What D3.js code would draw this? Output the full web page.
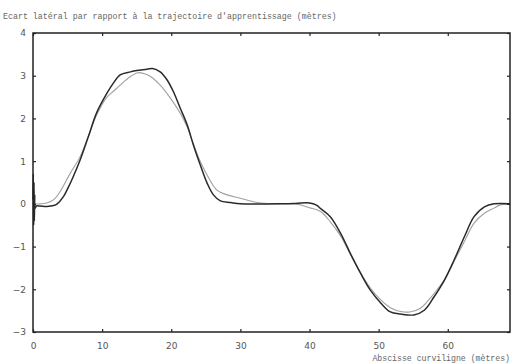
<!DOCTYPE html>
<html><head><meta charset="utf-8">
<script src="https://cdn.jsdelivr.net/npm/d3@7"></script>
<style>body{margin:0;background:#fff}svg{display:block}</style>
</head><body>
<svg id="c" width="511" height="363"></svg>
<script>
const title = "Ecart latéral par rapport à la trajectoire d'apprentissage (mètres)";
const xLabel = "Abscisse curviligne (mètres)";
const xTicks = [0,10,20,30,40,50,60];
const yTicks = [-3,-2,-1,0,1,2,3,4];

const measuredX = [0,0.05,0.1,0.15,0.2,0.25,0.3,0.5,1,2,3,3.5,4.4,5,5.8,6.8,8,9.2,10.7,11.6,12.6,14.1,15,16.5,17.3,18.4,19.4,20.3,21.3,22.3,23.2,24.2,25.2,26.1,27.1,28.6,30,35,38,40,41,41.6,43,44.5,45.9,47.4,48.8,50.3,51.7,53.2,55.1,56.6,58,59.5,60.9,62.4,63.8,65.3,66.7,69];
const measuredY = [0.1,0.7,-0.5,0.5,-0.4,0.2,-0.1,-0.05,-0.05,-0.06,-0.04,0,0.17,0.35,0.63,1.02,1.57,2.13,2.59,2.82,3.02,3.09,3.12,3.15,3.17,3.09,2.9,2.63,2.24,1.85,1.38,0.91,0.48,0.21,0.07,0.03,0,0,0.01,0.02,-0.03,-0.11,-0.3,-0.69,-1.16,-1.63,-2.02,-2.32,-2.53,-2.58,-2.6,-2.49,-2.18,-1.79,-1.32,-0.77,-0.3,-0.07,0,0];

const refX = [0,1,2,3,3.9,5.4,6.8,8,9.2,10.7,11.6,12.6,14.1,15.2,16,17,18.4,19.9,21.3,22.3,23.2,24.2,25.2,26.6,28.1,30,31.9,33,35,38,39,40,41.6,43,44.5,45.9,47.4,48.8,50.3,51.7,53.2,54.5,56,57.5,58.5,59.5,60.9,62.4,63.8,65.3,66.7,67.5,69];
const refY = [0,0,0.02,0.1,0.28,0.72,1.1,1.58,2.08,2.5,2.63,2.78,2.98,3.07,3.05,2.98,2.78,2.47,2.12,1.8,1.4,0.99,0.67,0.32,0.21,0.13,0.05,0.02,0,0,-0.04,-0.09,-0.18,-0.42,-0.75,-1.18,-1.62,-1.97,-2.25,-2.43,-2.52,-2.53,-2.45,-2.2,-2.0,-1.78,-1.35,-0.88,-0.45,-0.22,-0.1,-0.03,0];

const svg = d3.select("#c");
const L = 33, R = 510, T = 33, B = 332;
const x = d3.scaleLinear().domain([0,69]).range([L,R]);
const y = d3.scaleLinear().domain([-3,4]).range([B,T]);

const txt = "#555";
const mono = "Liberation Mono, DejaVu Sans Mono, monospace";
svg.append("text").attr("x",3).attr("y",19).attr("font-family",mono)
  .attr("font-size",8.3).attr("fill","#666").text(title);

const ref = refX.map((v,i)=>[x(v), y(refY[i])]);
const mea = measuredX.map((v,i)=>[x(v), y(measuredY[i])]);
svg.append("path").attr("d", d3.line().curve(d3.curveCatmullRom)(ref)).attr("fill","none").attr("stroke","#a0a0a0").attr("stroke-width",1.1);
svg.append("path").attr("d", d3.line().curve(d3.curveCatmullRom)(mea)).attr("fill","none").attr("stroke","#2a2a2a").attr("stroke-width",1.5);

const fs = 9, ff = "DejaVu Sans, sans-serif", fmt = d3.format("d");
const bx = svg.append("g").attr("transform",`translate(0,${B})`).call(d3.axisBottom(x).tickValues(xTicks).tickFormat(fmt).tickSizeInner(-3).tickSizeOuter(0).tickPadding(11));
const tx = svg.append("g").attr("transform",`translate(0,${T})`).call(d3.axisTop(x).tickValues(xTicks).tickSizeInner(-3).tickSizeOuter(0).tickFormat(""));
const ly = svg.append("g").attr("transform",`translate(${L},0)`).call(d3.axisLeft(y).tickValues(yTicks).tickFormat(fmt).tickSizeInner(-3).tickSizeOuter(0).tickPadding(7));
const ry = svg.append("g").attr("transform",`translate(${R},0)`).call(d3.axisRight(y).tickValues(yTicks).tickSizeInner(-3).tickSizeOuter(0).tickFormat(""));
[bx,tx,ly,ry].forEach(g=>{
  g.select(".domain").remove();
  g.selectAll(".tick line").attr("stroke","#222").attr("stroke-width",1.2);
  g.selectAll("text").attr("font-size",fs).attr("font-family",ff).attr("fill",txt);
});
svg.append("rect").attr("x",L).attr("y",T).attr("width",R-L).attr("height",B-T)
  .attr("fill","none").attr("stroke","#222").attr("stroke-width",1.5);

svg.append("text").attr("x",510).attr("y",361).attr("text-anchor","end")
  .attr("font-family",mono).attr("font-size",8.2).attr("fill","#666").text(xLabel);
</script>
</body></html>
